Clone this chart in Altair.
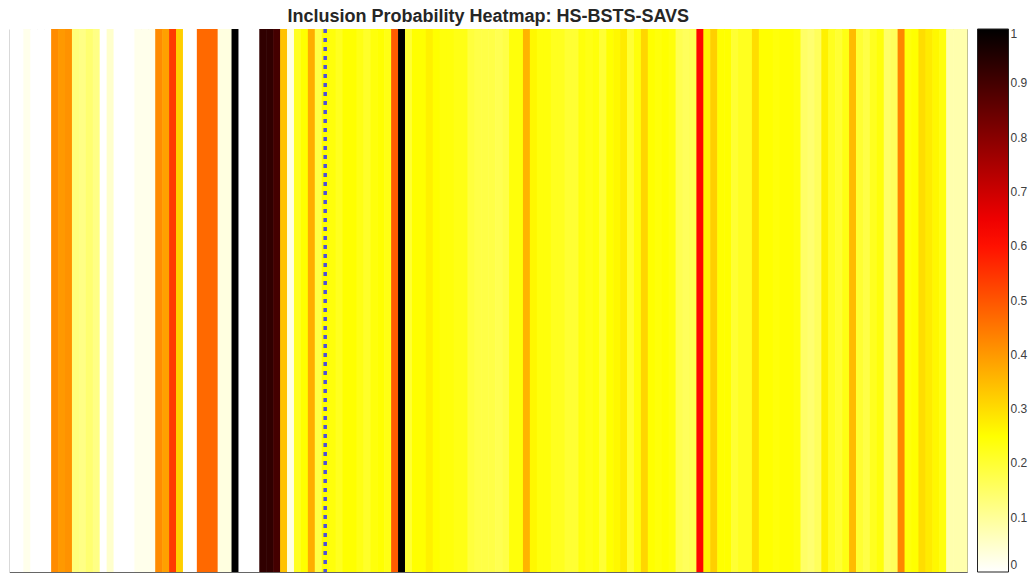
import altair as alt
import pandas as pd

# inclusion probability per predictor column (left to right)
probs = [
    0.0, 0.0, 0.02, 0.0, 0.0, 0.0, 0.42, 0.40, 0.41, 0.13,
    0.12, 0.14, 0.12, 0.0, 0.05, 0.0, 0.0, 0.0, 0.02, 0.02,
    0.02, 0.42, 0.39, 0.54, 0.32, 0.0, 0.0, 0.47, 0.47, 0.47,
    0.03, 0.03, 1.0, 0.0, 0.0, 0.0, 0.93, 0.93, 0.90, 0.34,
    0.03, 0.22, 0.25, 0.37, 0.18, 0.25, 0.24, 0.22, 0.25, 0.25,
    0.23, 0.21, 0.24, 0.25, 0.23, 0.49, 1.0,
    0.20, 0.25, 0.25, 0.27, 0.25, 0.24, 0.24, 0.23, 0.23, 0.19,
    0.18, 0.18, 0.18, 0.17, 0.18, 0.24, 0.24, 0.36, 0.26, 0.24,
    0.24, 0.22, 0.22, 0.20, 0.20,
    0.24, 0.23, 0.24, 0.20, 0.25, 0.26, 0.28, 0.20, 0.24, 0.31,
    0.25, 0.24, 0.25, 0.24, 0.17, 0.16, 0.17,
    0.62, 0.27, 0.32,
    0.25, 0.25, 0.20, 0.22, 0.22, 0.30,
    0.25, 0.25, 0.24, 0.25, 0.25, 0.24,
    0.15, 0.14, 0.16, 0.27, 0.22, 0.20, 0.23, 0.35,
    0.20, 0.18, 0.22, 0.24, 0.15, 0.16, 0.43,
    0.24, 0.25, 0.30, 0.28, 0.26, 0.24, 0.08, 0.08, 0.08,
]
marker_cols = [45]
cbar_ticks = [0, 0.1, 0.2, 0.3, 0.4, 0.5, 0.6, 0.7, 0.8, 0.9, 1]
cmap_stops = [0, 0.25, 0.625, 1]
cmap_colors = ["#ffffff", "#ffff00", "#ff0000", "#000000"]
title_text = "Inclusion Probability Heatmap: HS-BSTS-SAVS"

n = len(probs)
df = pd.DataFrame({
    "col": list(range(n)),
    "col_end": [i + 1 for i in range(n)],
    "prob": probs,
})
mk = pd.DataFrame({"pos": [c + 0.5 for c in marker_cols]})

W, H = 957.5, 543
xscale = alt.Scale(domain=[0, n], nice=False, zero=False)
cscale = alt.Scale(type="linear", domain=cmap_stops, range=cmap_colors, interpolate="rgb")

heat = alt.Chart(df).mark_rect(x2Offset=0.6).encode(
    x=alt.X("col:Q", scale=xscale, axis=None),
    x2="col_end:Q",
    y=alt.value(0),
    y2=alt.value(H),
    color=alt.Color(
        "prob:Q",
        scale=cscale,
        legend=alt.Legend(
            type="gradient",
            direction="vertical",
            title=None,
            values=cbar_ticks,
            format="~g",
            gradientLength=H,
            gradientThickness=31,
            offset=10,
            padding=0,
            labelFontSize=12,
            labelFont="Liberation Sans",
            labelColor="#404040",
            labelOffset=2,
            labelOverlap=False,
            gradientStrokeColor="#222222",
            gradientStrokeWidth=1,
        ),
    ),
)

rule = alt.Chart(mk).mark_rule(color="#5050dc", strokeWidth=3.5, strokeDash=[4, 5]).encode(
    x=alt.X("pos:Q", scale=xscale, axis=None),
    y=alt.value(0),
    y2=alt.value(H),
)

chart = alt.layer(heat, rule).properties(
    width=W,
    height=H,
    title=alt.Title(title_text, font="Liberation Sans", fontSize=18, fontWeight="bold",
                    color="#262626", offset=8, dy=7, anchor="middle"),
    padding={"left": 1.5, "top": 21, "right": 61, "bottom": 3},
    autosize="none",
).configure_view(stroke="#666666", strokeWidth=1)

chart.save("out.html", embed_options={"renderer": "svg", "actions": False})
